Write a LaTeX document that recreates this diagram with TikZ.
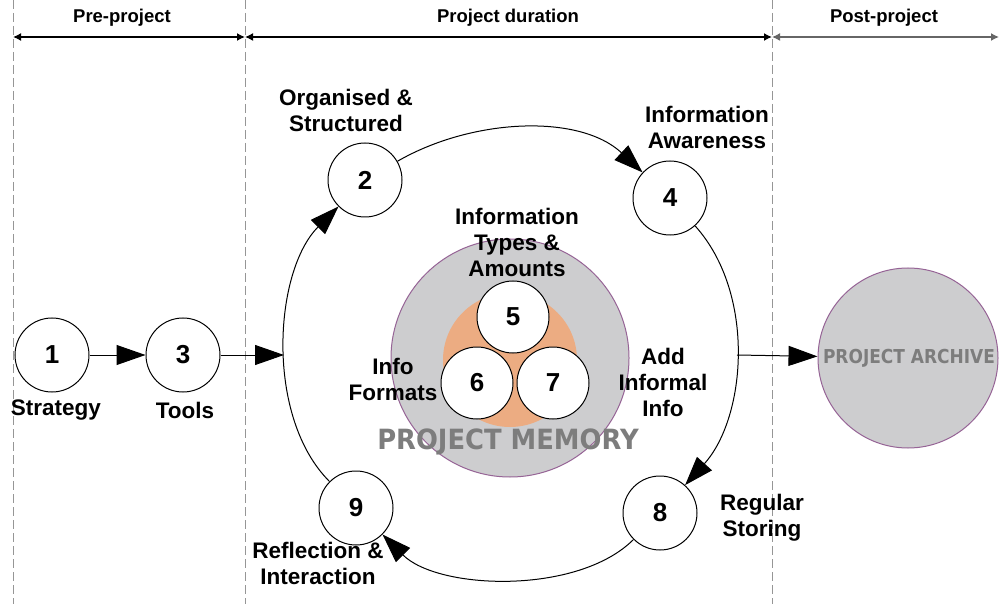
\documentclass[tikz,border=0pt]{standalone}
\usepackage{fontspec}
\setmainfont{Liberation Sans}
\newfontfamily\heavyfont{DejaVu Sans}
\usetikzlibrary{arrows.meta}
\definecolor{memgrey}{RGB}{205,205,207}
\definecolor{rimpurple}{RGB}{150,100,150}
\definecolor{orangefill}{RGB}{236,172,130}
\definecolor{txtgrey}{RGB}{125,125,125}
\definecolor{guidegrey}{RGB}{150,150,150}
\begin{document}
\begin{tikzpicture}[x=1pt,y=1pt,
  num/.style={circle,draw,line width=1pt,fill=white,minimum size=74pt,inner sep=0pt,
    font=\fontsize{26}{26}\selectfont\bfseries},
  innum/.style={num,minimum size=72pt},
  lbl/.style={align=center,font=\fontsize{22.5}{26}\selectfont\bfseries,inner sep=0pt},
  head/.style={font=\fontsize{18.5}{18.5}\selectfont\bfseries,inner sep=0pt},
  flow/.style={line width=1pt,-{Triangle[length=29pt,width=20pt]}},
  span/.style={line width=1.5pt,{Latex[length=8pt,width=8pt]}-{Latex[length=8pt,width=8pt]}},
  guide/.style={guidegrey,dash pattern=on 9pt off 4pt,line width=0.8pt}]

\useasboundingbox (0,0) rectangle (999,-604);
\fill[white] (0,0) rectangle (999,-604);

% phase guides
\draw[guide] (13,0) -- (13,-604);
\draw[guide] (245,0) -- (245,-604);
\draw[guide] (772,0) -- (772,-604);

\coordinate (s0) at (13,-37);
\coordinate (s1) at (245,-37);
\coordinate (s2) at (772,-37);
\coordinate (s3) at (999,-37);
\draw[span] (s0) -- (s1);
\draw[span] (s1) -- (s2);
\draw[span,draw=black!60,fill=black!60] (s2) -- (s3);

\node[head] (hpre) at (122,-18) {Pre-project};
\node[head] (hdur) at (508,-18) {Project duration};
\node[head] (hpost) at (884,-18) {Post-project};

% project memory
\node[circle,fill=memgrey,draw=rimpurple,line width=1pt,minimum size=238pt,inner sep=0pt] (mem) at (510,-358) {};
\node[circle,fill=orangefill,minimum size=134pt,inner sep=0pt] (core) at (510,-360) {};
\node[innum] (n5) at (513,-317) {5};
\node[innum] (n6) at (477,-383) {6};
\node[innum] (n7) at (553,-383) {7};
\node[text=txtgrey,inner sep=0pt] (memlbl) at (508,-442)
  {\scalebox{1}[1.08]{\heavyfont\bfseries\fontsize{25.8}{25.8}\selectfont PROJECT MEMORY}};

% archive
\node[circle,fill=memgrey,draw=rimpurple,line width=1pt,minimum size=180pt,inner sep=0pt] (arch) at (908,-358) {};
\node[text=txtgrey,inner sep=0pt] (archlbl) at (909,-358)
  {\scalebox{1}[1.13]{\heavyfont\bfseries\fontsize{17}{17}\selectfont PROJECT ARCHIVE}};

% process circles
\node[num] (n1) at (52,-355) {1};
\node[num] (n3) at (183,-355) {3};
\node[num] (n2) at (365,-180) {2};
\node[num] (n4) at (670,-198) {4};
\node[num] (n8) at (660,-513) {8};
\node[num] (n9) at (356,-508) {9};

\coordinate (cycL) at (284,-355);
\coordinate (cycR) at (737,-355);

\draw[flow] (n1) -- (n3);
\draw[flow] (n3) -- (cycL);
\draw[flow] (cycR) -- (arch);

\draw[flow] (n2) to[out=30,in=137,looseness=0.9] (n4);
\draw[flow] (n4) to[out=-48,in=48,looseness=0.9] (n8);
\draw[flow] (n8) to[out=-135,in=-45,looseness=0.8] (n9);
\draw[flow] (n9) to[out=135,in=225,looseness=0.85] (n2);

% labels
\node[lbl] (l2) at (346,-110) {Organised \&\\Structured};
\node[lbl] (l4) at (707,-127) {Information\\Awareness};
\node[lbl] (l5) at (517,-242) {Information\\Types \&\\Amounts};
\node[lbl] (l6) at (393,-379) {Info\\Formats};
\node[lbl] (l7) at (663,-382) {Add\\Informal\\Info};
\node[lbl] (l1) at (56,-410) {Strategy};
\node[lbl] (l3) at (185,-410) {Tools};
\node[lbl] (l8) at (762,-518) {Regular\\Storing};
\node[lbl] (l9) at (318,-563) {Reflection \&\\Interaction};
\end{tikzpicture}
\end{document}
